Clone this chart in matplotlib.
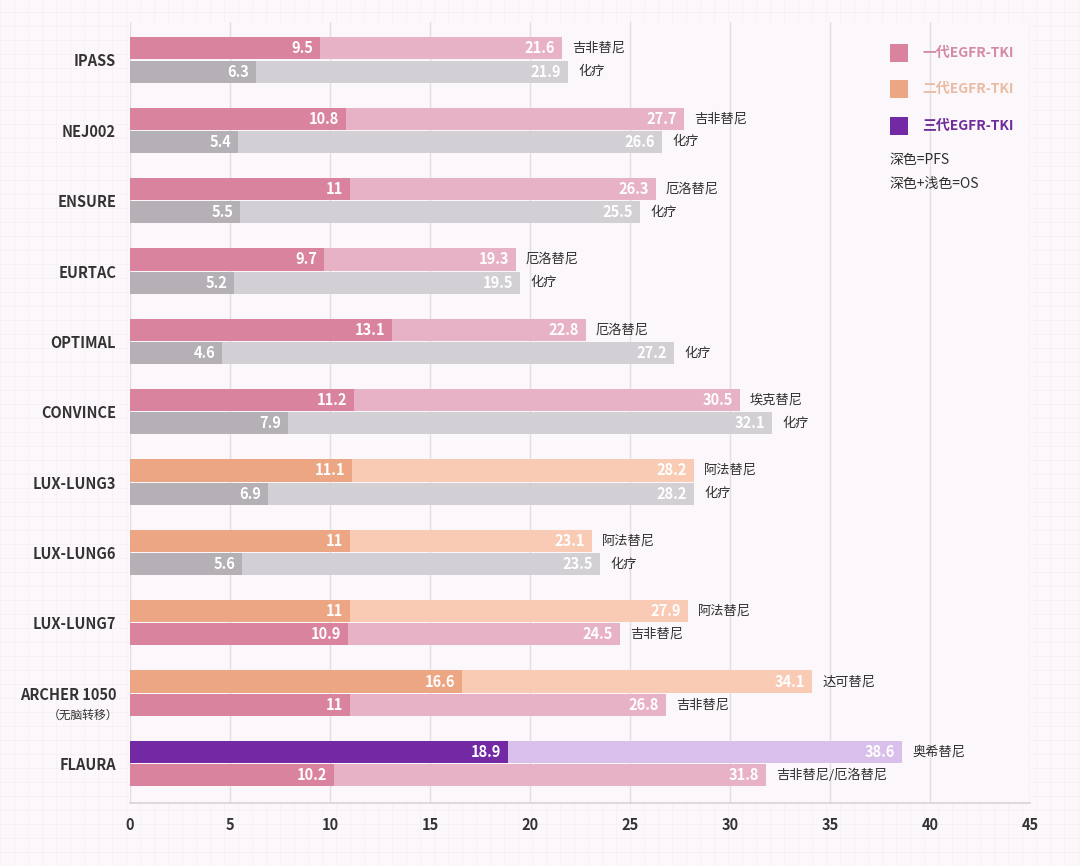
import matplotlib
matplotlib.use("Agg")
import matplotlib.pyplot as plt
from matplotlib.patches import Rectangle
from matplotlib.transforms import blended_transform_factory

plt.rcParams['font.family'] = ['Noto Sans CJK SC', 'DejaVu Sans']

trials = ["IPASS", "NEJ002", "ENSURE", "EURTAC", "OPTIMAL", "CONVINCE",
          "LUX-LUNG3", "LUX-LUNG6", "LUX-LUNG7", "ARCHER 1050", "FLAURA"]
trial_sub = ["", "", "", "", "", "", "", "", "", "（无脑转移）", ""]

top_pfs = [9.5, 10.8, 11, 9.7, 13.1, 11.2, 11.1, 11, 11, 16.6, 18.9]
top_os = [21.6, 27.7, 26.3, 19.3, 22.8, 30.5, 28.2, 23.1, 27.9, 34.1, 38.6]
top_drug = ["吉非替尼", "吉非替尼", "厄洛替尼", "厄洛替尼", "厄洛替尼", "埃克替尼",
            "阿法替尼", "阿法替尼", "阿法替尼", "达可替尼", "奥希替尼"]
top_kind = ["gen1"] * 6 + ["gen2"] * 4 + ["gen3"]

bot_pfs = [6.3, 5.4, 5.5, 5.2, 4.6, 7.9, 6.9, 5.6, 10.9, 11, 10.2]
bot_os = [21.9, 26.6, 25.5, 19.5, 27.2, 32.1, 28.2, 23.5, 24.5, 26.8, 31.8]
bot_drug = ["化疗"] * 8 + ["吉非替尼", "吉非替尼", "吉非替尼/厄洛替尼"]
bot_kind = ["chemo"] * 8 + ["gen1"] * 3

x_ticks = [0, 5, 10, 15, 20, 25, 30, 35, 40, 45]
legend_labels = ["一代EGFR-TKI", "二代EGFR-TKI", "三代EGFR-TKI"]
legend_kinds = ["gen1", "gen2", "gen3"]
note_labels = ["深色=PFS", "深色+浅色=OS"]

colors = {
    "gen1": ("#d9839f", "#e8b2c6"),
    "gen2": ("#eca684", "#f9cbb5"),
    "gen3": ("#7329a3", "#d9c0ea"),
    "chemo": ("#b4b0b6", "#d3d0d5"),
}
legend_text_colors = {"gen1": "#d28aa6", "gen2": "#e9bba2", "gen3": "#6f2d98"}

bg = "#fcf7fa"
fig = plt.figure(figsize=(10.8, 8.66), dpi=100, facecolor=bg)
ax = fig.add_axes([130 / 1080, 1 - 803 / 866, 900 / 1080, (803 - 22) / 866])
ax.set_facecolor(bg)

# faint paper grid texture
for xf in range(0, 1080, 14):
    fig.add_artist(plt.Line2D([xf / 1080, xf / 1080], [0, 1], color="#f5eef3", lw=0.5, zorder=-10))
for yf in range(0, 866, 14):
    fig.add_artist(plt.Line2D([0, 1], [yf / 866, yf / 866], color="#f5eef3", lw=0.5, zorder=-10))

h = 0.315
off = 0.165
n = len(trials)
ys = list(range(n))

for i in ys:
    # top bar
    dk, lt = colors[top_kind[i]]
    ax.barh(i - off, top_os[i], height=h, color=lt, zorder=2)
    ax.barh(i - off, top_pfs[i], height=h, color=dk, zorder=3)
    ax.text(top_pfs[i] - 0.35, i - off, f"{top_pfs[i]:g}", color="white", ha="right", va="center",
            fontsize=10.5, fontweight="bold", zorder=4)
    ax.text(top_os[i] - 0.35, i - off, f"{top_os[i]:g}", color="white", ha="right", va="center",
            fontsize=10.5, fontweight="bold", zorder=4)
    ax.text(top_os[i] + 0.5, i - off, top_drug[i], color="#2e2e2e", ha="left", va="center",
            fontsize=9.5, zorder=4)
    # bottom bar
    dk, lt = colors[bot_kind[i]]
    ax.barh(i + off, bot_os[i], height=h, color=lt, zorder=2)
    ax.barh(i + off, bot_pfs[i], height=h, color=dk, zorder=3)
    ax.text(bot_pfs[i] - 0.35, i + off, f"{bot_pfs[i]:g}", color="white", ha="right", va="center",
            fontsize=10.5, fontweight="bold", zorder=4)
    ax.text(bot_os[i] - 0.35, i + off, f"{bot_os[i]:g}", color="white", ha="right", va="center",
            fontsize=10.5, fontweight="bold", zorder=4)
    ax.text(bot_os[i] + 0.5, i + off, bot_drug[i], color="#2e2e2e", ha="left", va="center",
            fontsize=9.5, zorder=4)

ax.set_xlim(0, 45)
ax.set_ylim(n - 1 + 0.5615, -0.54)
ax.set_xticks(x_ticks)
ax.set_xticklabels([str(t) for t in x_ticks], fontsize=10.5, fontweight="bold", color="#333333")
ax.tick_params(axis="x", length=0, pad=10)
ax.set_yticks(ys)
ax.set_yticklabels(trials, fontsize=10.5, fontweight="bold", color="#333333")
ax.tick_params(axis="y", length=0, pad=10)

tr = blended_transform_factory(ax.transAxes, ax.transData)
for i in ys:
    if trial_sub[i]:
        ax.text(-0.013, i + 0.31, trial_sub[i], transform=tr, ha="right", va="center",
                fontsize=8.5, color="#333333")

ax.grid(axis="x", color="#e4dde3", lw=1, zorder=0)
ax.set_axisbelow(True)
for s in ["top", "right", "left"]:
    ax.spines[s].set_visible(False)
ax.spines["bottom"].set_color("#d8d2d8")
ax.spines["bottom"].set_linewidth(1.2)

# legend
leg_y = [53, 89, 126]
for yy, lab, kind in zip(leg_y, legend_labels, legend_kinds):
    fig.add_artist(Rectangle((890 / 1080, 1 - (yy + 9) / 866), 18 / 1080, 18 / 866,
                             transform=fig.transFigure, facecolor=colors[kind][0], edgecolor="none"))
    fig.text(922 / 1080, 1 - yy / 866, lab, color=legend_text_colors[kind], fontsize=10,
             ha="left", va="center", fontweight="bold")
for yy, lab in zip([160, 184], note_labels):
    fig.text(889 / 1080, 1 - yy / 866, lab, color="#2e2e2e", fontsize=10, ha="left", va="center")

fig.savefig("out.png", dpi=100, facecolor=bg)
